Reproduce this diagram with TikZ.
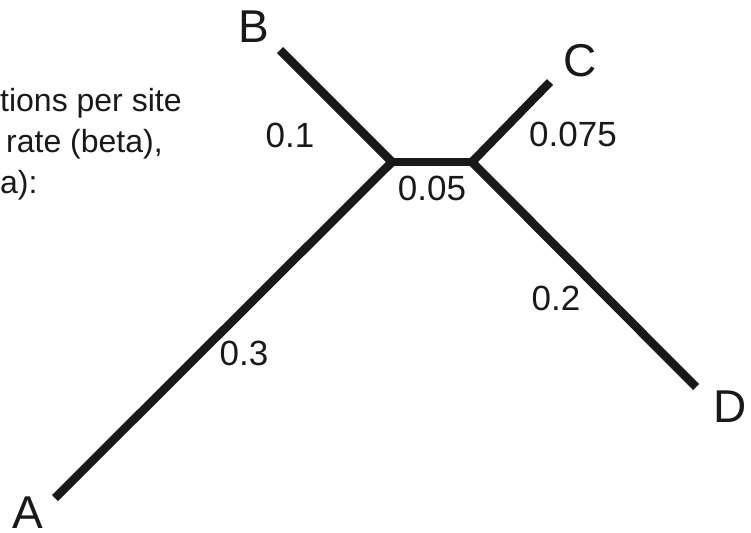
\documentclass[tikz,border=0pt]{standalone}
\usepackage{fontspec}
\setmainfont{Liberation Sans}
\usetikzlibrary{positioning}

\begin{document}
\begin{tikzpicture}[
  x=1pt, y=-1pt,
  branch/.style={line width=8.5pt, line join=miter, draw=black!90},
  leaf/.style={anchor=base, inner sep=0pt, text=black!90,
               font=\fontsize{46}{46}\selectfont},
  blen/.style={anchor=base, inner sep=0pt, text=black!90,
               font=\fontsize{35}{35}\selectfont},
  note/.style={anchor=base west, inner sep=0pt, text=black!90,
               font=\fontsize{32}{41}\selectfont}
]
\useasboundingbox (0,0) rectangle (751,532);

% inner nodes and tips of the tree
\coordinate (j1) at (392,162);
\coordinate (j2) at (472,162);
\coordinate (tA) at (55,498);
\coordinate (tB) at (280,50);
\coordinate (tC) at (550,82);
\coordinate (tD) at (696,387);

\draw[branch] (tA) -- (j1) -- (tB);
\draw[branch] (j1) -- (j2);
\draw[branch] (tC) -- (j2) -- (tD);

% taxa
\node[leaf] (A) at (28,528) {A};
\node[leaf] (B) at (254,43) {B};
\node[leaf] (C) at (580,77) {C};
\node[leaf] (D) at (730,422) {D};

% branch lengths
\node[blen] (lA) at (244,365) {0.3};
\node[blen] (lB) at (290,147) {0.1};
\node[blen] (lC) at (573,146) {0.075};
\node[blen] (lD) at (556,310) {0.2};
\node[blen] (lin) at (432,200) {0.05};

% note, cut at the left edge
\node[note] (n1) at (0,111) {tions per site};
\node[note] (n2) at (6,152) {rate (beta),};
\node[note] (n3) at (0,193) {a):};
\end{tikzpicture}
\end{document}
